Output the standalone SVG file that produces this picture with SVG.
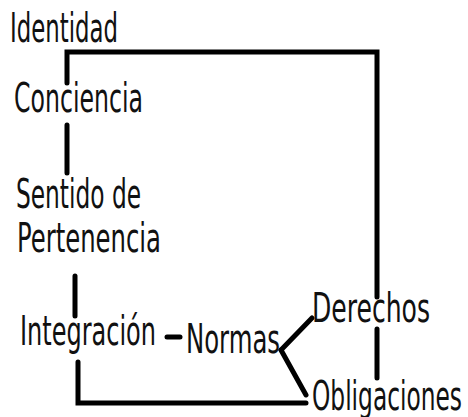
<svg xmlns="http://www.w3.org/2000/svg" width="468" height="417" viewBox="0 0 468 417">
<style>
.t{font-family:"DejaVu Sans Condensed","DejaVu Sans",sans-serif;font-stretch:condensed;font-size:40px;fill:#111}
.c{fill:none;stroke:#000;stroke-width:5;stroke-linecap:round;stroke-linejoin:miter}
</style>
<rect width="468" height="417" fill="#fff"/>
<g id="connectors">
<path class="c" d="M67 83 V52 H377 V297"/>
<path class="c" d="M67 125 V173"/>
<path class="c" d="M75 276 V316"/>
<path class="c" d="M78 362 V403 H306"/>
<path class="c" d="M167 337 H180"/>
<path class="c" d="M281 350 L312 318"/>
<path class="c" d="M281 350 L306 395"/>
<path class="c" d="M377 329 V378"/>
</g>
<g id="identidad"><text class="t" x="10" y="42" textLength="108" lengthAdjust="spacingAndGlyphs">Identidad</text></g>
<g id="conciencia"><text class="t" x="14" y="112" textLength="129" lengthAdjust="spacingAndGlyphs">Conciencia</text></g>
<g id="sentido"><text class="t" x="16" y="208" textLength="125" lengthAdjust="spacingAndGlyphs">Sentido de</text><text class="t" x="17" y="252" textLength="144" lengthAdjust="spacingAndGlyphs">Pertenencia</text></g>
<g id="integracion"><text class="t" x="20" y="345" textLength="136" lengthAdjust="spacingAndGlyphs">Integración</text></g>
<g id="normas"><text class="t" x="186" y="353" textLength="94" lengthAdjust="spacingAndGlyphs">Normas</text></g>
<g id="derechos"><text class="t" x="312" y="322" textLength="118" lengthAdjust="spacingAndGlyphs">Derechos</text></g>
<g id="obligaciones"><text class="t" x="312" y="410" textLength="150" lengthAdjust="spacingAndGlyphs">Obligaciones</text></g>
</svg>
